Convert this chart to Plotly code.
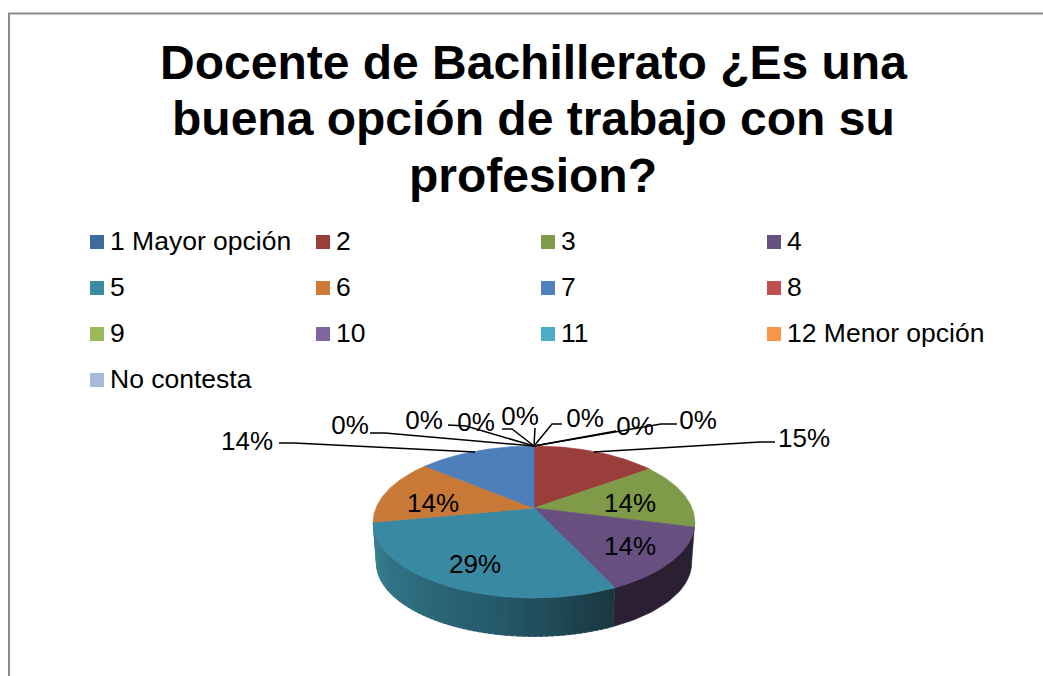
import math
import plotly.graph_objects as go

CATEGORIES = ["1 Mayor opción", "2", "3", "4", "5", "6", "7", "8", "9", "10", "11", "12 Menor opción", "No contesta"]
VALUES = [0, 15, 14, 14, 29, 14, 14, 0, 0, 0, 0, 0, 0]
LEGEND_COLORS = ["#3E6B9D", "#9B3D3B", "#7F9A48", "#674F80", "#3B8BA3", "#CC7A37", "#4F81BD",
                 "#C0504D", "#9BBB59", "#8064A2", "#4BACC6", "#F79646", "#AAB9D7"]
FACE_COLORS = ["#3E6B9D", "#9A3E3C", "#7F9A48", "#674F80", "#3A89A2", "#C87937", "#4F7FBB",
               "#C0504D", "#9BBB59", "#8064A2", "#4BACC6", "#F79646", "#AAB9D7"]
SIDE_COLORS = {2: "#4A5A2A", 3: "#2B2033"}
TITLE_LINES = ["Docente de Bachillerato ¿Es una", "buena opción de trabajo con su", "profesion?"]

FONT = "Liberation Sans"

# projection of the pie disc onto the page, in page pixels
HUB_X, HUB_Y = 534, 508
AX, BY, PERSP = 158.0, 73.4, 0.184
LOW_SCALE_X, LOW_SCALE_Y, LOW_HUB_Y = 0.98, 0.965, 549.6
VIS_START, VIS_END = 100.6, 259.2


def rim(deg, low=False):
    t = math.radians(deg)
    d = 1 + PERSP * math.cos(t)
    x = AX * math.sin(t) / d
    y = -BY * math.cos(t) / d
    if low:
        return HUB_X + LOW_SCALE_X * x, LOW_HUB_Y + LOW_SCALE_Y * y
    return HUB_X + x, HUB_Y + y


def arc(a, b, n, low=False):
    pts = [rim(a + (b - a) * i / n, low) for i in range(n + 1)]
    return [p[0] for p in pts], [p[1] for p in pts]


def lerp_color(stops, f):
    f = max(0, min(1, f)) * (len(stops) - 1)
    i = min(int(f), len(stops) - 2)
    g = f - i
    c = [stops[i][k] + (stops[i + 1][k] - stops[i][k]) * g for k in range(3)]
    return "rgb(%d,%d,%d)" % tuple(round(v) for v in c)


TEAL_RAMP = [(26, 56, 66), (37, 88, 105), (46, 110, 128), (58, 128, 146)]

fig = go.Figure()


def poly(xs, ys, color, name):
    fig.add_trace(go.Scatter(x=xs, y=ys, mode="lines", fill="toself", fillcolor=color,
                             line=dict(color=color, width=0.7), hoverinfo="skip",
                             name=name, showlegend=False))


# cumulative angles
total = sum(VALUES)
spans = []
cum = 0
for v in VALUES:
    spans.append((cum / total * 360, (cum + v) / total * 360))
    cum += v

# side walls
for i, (a, b) in enumerate(spans):
    s, e = max(a, VIS_START), min(b, VIS_END)
    if VALUES[i] == 0 or e <= s:
        continue
    if i == 4:
        steps = 60
        for k in range(steps):
            p = s + (e - s) * k / steps
            q = s + (e - s) * (k + 1.5) / steps
            q = min(q, e)
            tx, ty = arc(p, q, 3)
            lx, ly = arc(q, p, 3, low=True)
            poly(tx + lx, ty + ly, lerp_color(TEAL_RAMP, k / (steps - 1)), CATEGORIES[i])
    else:
        tx, ty = arc(s, e, 30)
        lx, ly = arc(e, s, 30, low=True)
        poly(tx + lx, ty + ly, SIDE_COLORS.get(i, FACE_COLORS[i]), CATEGORIES[i])

# top faces
for i, (a, b) in enumerate(spans):
    if VALUES[i] == 0:
        continue
    tx, ty = arc(a, b, 60)
    poly([HUB_X] + tx + [HUB_X], [HUB_Y] + ty + [HUB_Y], FACE_COLORS[i], CATEGORIES[i])

# leader lines and data labels, per category (page pixels for label anchor)
LABEL_XY = {0: (698, 422), 1: (804, 440), 2: (630, 505), 3: (630, 548), 4: (475, 566), 5: (433, 505),
            6: (247, 443), 7: (350, 427), 8: (424, 422), 9: (476, 424), 10: (520, 418), 11: (585, 420),
            12: (635, 428)}
TOP = rim(0)
LEADERS = {
    0: [(677, 424), (661, 424), TOP],
    1: [(775, 442), (760, 442), (594, 452)],
    6: [(279, 443), (294, 443), (475, 452)],
    7: [(370, 433), (385, 433), TOP],
    8: [(448, 425), (466, 426), TOP],
    9: [(502, 429), (512, 429), TOP],
    10: [(535, 428), TOP],
    11: [(562, 424), (552, 424), TOP],
    12: [(616, 431), TOP],
}
for i, pts in LEADERS.items():
    fig.add_trace(go.Scatter(x=[p[0] for p in pts], y=[p[1] for p in pts], mode="lines",
                             line=dict(color="#000000", width=1.5), hoverinfo="skip", showlegend=False))

fig.add_trace(go.Scatter(
    x=[LABEL_XY[i][0] for i in range(len(VALUES))],
    y=[LABEL_XY[i][1] for i in range(len(VALUES))],
    mode="text", text=["%d%%" % v for v in VALUES], textposition="middle center",
    textfont=dict(family=FONT, size=26, color="#000000"),
    hoverinfo="skip", showlegend=False))

# legend grid
COLS = [90, 316, 541, 767]
ROWS = [242, 288, 334, 380]
for i, name in enumerate(CATEGORIES):
    r, c = divmod(i, 4)
    fig.add_trace(go.Scatter(x=[COLS[c] + 7], y=[ROWS[r]], mode="markers",
                             marker=dict(symbol="square", size=14, color=LEGEND_COLORS[i], line=dict(width=0)),
                             hoverinfo="skip", showlegend=False, name=name))
    fig.add_trace(go.Scatter(x=[COLS[c] + 20], y=[ROWS[r] + 1], mode="text",
                             text=[name], textposition="middle right",
                             textfont=dict(family=FONT, size=26.5, color="#000000"),
                             hoverinfo="skip", showlegend=False, name=name))

annotations = [dict(x=533, y=y, xref="x", yref="y", text=t, showarrow=False, xanchor="center", yanchor="middle",
                    font=dict(family=FONT, size=48, color="#000000"))
               for t, y in zip(["<b>%s</b>" % s for s in TITLE_LINES], [62, 118, 175])]

fig.update_layout(
    width=1043, height=676, margin=dict(l=0, r=0, t=0, b=0, pad=0), autosize=False,
    paper_bgcolor="#FFFFFF", plot_bgcolor="#FFFFFF", showlegend=False,
    xaxis=dict(range=[0, 1043], visible=False, fixedrange=True),
    yaxis=dict(range=[676, 0], visible=False, fixedrange=True),
    annotations=annotations,
    shapes=[
        dict(type="line", x0=9, x1=9, y0=13.5, y1=676, line=dict(color="#8C8C8C", width=2)),
        dict(type="line", x0=8, x1=1043, y0=13.5, y1=13.5, line=dict(color="#8C8C8C", width=2)),
    ],
)
fig.write_html("out.html", config={"displayModeBar": False},
               post_script="document.body.style.margin='0';document.documentElement.style.overflow='hidden';")
